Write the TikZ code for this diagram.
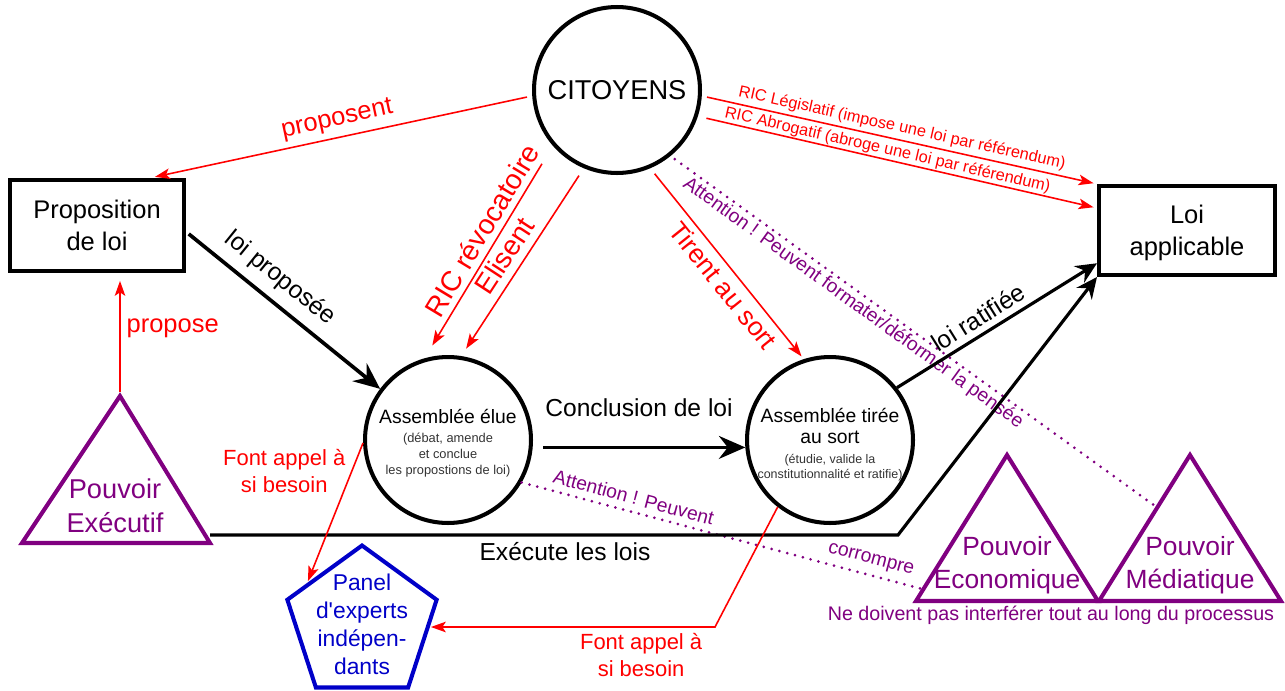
\documentclass[tikz,border=0pt]{standalone}
\usepackage{fontspec}
\setmainfont{Liberation Sans}
\usetikzlibrary{positioning, arrows.meta, shapes.geometric, calc}
\definecolor{purp}{RGB}{128,0,128}
\definecolor{panblue}{RGB}{0,0,200}
\newcommand{\fsz}[2]{\fontsize{#1}{#2}\selectfont}

\begin{document}
\begin{tikzpicture}[
        x=0.02cm, y=-0.02cm,
        bigcirc/.style={circle, draw=black, line width=2.3pt, minimum size=3.32cm, inner sep=0pt, align=center},
        loibox/.style={rectangle, draw=black, line width=2.3pt, align=center, font=\fsz{14.5}{18.5}},
        redarr/.style={draw=red, line width=0.9pt, -{Stealth[length=8.5pt, width=6pt, inset=2pt]}},
        redlbl/.style={text=red, font=\fsz{14.5}{17}},
        bigarr/.style={draw=black, line width=2.1pt, -{Stealth[length=15pt, width=13pt, inset=5pt]}},
        blkarr/.style={draw=black, line width=1.8pt, -{Stealth[length=12pt, width=11pt, inset=4pt]}},
        blklbl/.style={text=black, font=\fsz{14}{17}},
        purdot/.style={draw=purp, line width=1.7pt, line cap=round, dash pattern=on 0pt off 4.6pt},
        purlbl/.style={text=purp, font=\fsz{11}{13}},
        powtri/.style={draw=purp, line width=2.3pt},
        powtxt/.style={text=purp, align=center, font=\fsz{15}{18.5}},
    ]
    \useasboundingbox (0,0) rectangle (1285,690);

    % Draw the main actors
    \node[bigcirc, font=\fsz{15.5}{18}] (cit) at (617,90) {CITOYENS};
    \node[loibox, minimum width=3.48cm, minimum height=1.82cm] (prop) at (97,225.5) {Proposition\\de loi};
    \node[loibox, minimum width=3.52cm, minimum height=1.78cm] (loi) at (1187,230.5) {\rule{0pt}{13pt}Loi\\applicable};

    % Draw the two assemblies
    \node[bigcirc, font=\fsz{7.3}{9}, text=black!80] (elue) at (448,440)
        {\fsz{11}{13}\color{black}\rule{0pt}{11.5pt}Assemblée élue\\[2pt](débat, amende\\et conclue\\les propostions de loi)};
    \node[bigcirc, font=\fsz{7.1}{8.5}, text=black!80] (tiree) at (830,440)
        {\fsz{11}{13}\color{black}\rule{0pt}{13pt}Assemblée tirée\\[3.5pt]\fsz{11}{13}\color{black}au sort\\[2.8pt](étudie, valide la\\constitutionnalité et ratifie)};

    % Draw the panel of experts
    \node[regular polygon, regular polygon sides=5, draw=panblue, line width=2.3pt, minimum size=3.14cm, inner sep=0pt,
        label={[text=panblue, align=center, font=\fsz{13}{15.9}]center:Panel\\d\textquotesingle{}experts\\indépen-\\dants}] (panel) at (362,624) {};

    % Draw the powers
    \coordinate (exA) at (120,396);
    \coordinate (exL) at (22,543);
    \coordinate (exR) at (210,543);
    \draw[powtri] (exA) -- (exL) -- (exR) -- cycle;
    \node[powtxt, font=\fsz{15.5}{19.5}] (exec) at (115,506) {Pouvoir\\Exécutif};
    \foreach \name/\cx/\txt in {eco/1007/Economique, med/1190/Médiatique} {
        \coordinate (\name A) at (\cx,455);
        \coordinate (\name L) at (\cx-91,601);
        \coordinate (\name R) at (\cx+91,601);
        \draw[powtri] (\name A) -- (\name L) -- (\name R) -- cycle;
        \node[powtxt] (\name) at (\cx,565) {Pouvoir\\\txt};
    }
    \node[purlbl, font=\fsz{11.2}{13}] (nedoiv) at (1051,615) {Ne doivent pas interférer tout au long du processus};

    % Connect the citizens with the rest
    \draw[redarr, shorten <=3pt, shorten >=3pt] (cit.184) -- node[redlbl, sloped, above] {proposent} (prop.42);
    \draw[redarr, shorten <=12pt, shorten >=8.5pt] (cit.221) -- node[redlbl, font=\fsz{16}{19}, sloped, above, pos=0.44] {RIC révocatoire} (elue.106);
    \draw[redarr, shorten <=5pt, shorten >=5pt] (cit.247) -- node[redlbl, font=\fsz{16}{19}, sloped, above=1pt, pos=0.52] {Elisent} (elue.81);
    \draw[redarr, shorten <=4pt, shorten >=2pt] (cit.293) -- node[redlbl, font=\fsz{15}{18}, sloped, below, pos=0.56] {Tirent au sort} (tiree.108);
    \draw[redarr, shorten <=3pt, shorten >=2pt] (cit.356) -- node[redlbl, font=\fsz{9.3}{11}, sloped, above, inner sep=2pt] {RIC Législatif (impose une loi par référendum)} (loi.north west);
    \draw[redarr, shorten <=5pt, shorten >=2pt] (cit.342) -- node[redlbl, font=\fsz{9.3}{11}, sloped, above, inner sep=0.5pt, pos=0.47] {RIC Abrogatif (abroge une loi par référendum)} (loi.166);

    % Warnings about the powers
    \draw[purdot, shorten <=3pt] (cit.309) -- node[purlbl, sloped, below, inner sep=1pt, pos=0.39] {Attention ! Peuvent formater/déformer la pensée} ($(medA)!0.36!(medL)$);
    \draw[purdot] (elue.330) -- node[purlbl, sloped, above, pos=0.27] {Attention ! Peuvent} node[purlbl, sloped, above, pos=0.86] {corrompre} ($(ecoA)!0.92!(ecoL)$);

    % The path of a law
    \draw[bigarr, shorten <=2pt] (prop.-4) -- node[blklbl, sloped, above=2pt, pos=0.41] {loi proposée} (elue.143);
    \draw[bigarr, shorten <=6pt] (elue.-5) -- node[blklbl, above=13pt] {Conclusion de loi} (tiree.185);
    \draw[blkarr] (tiree.38) -- node[blklbl, sloped, above, pos=0.45] {loi ratifiée} (loi.200);

    % The executive
    \draw[redarr, shorten <=2pt, shorten >=4.5pt] (exA) -- node[redlbl, right, pos=0.55] {propose} (exA |- prop.south);
    \coordinate (exout) at (210,535);
    \coordinate (exbend) at (898,535);
    \draw[blkarr] (exout) -- node[blklbl, below, pos=0.516] {Exécute les lois} (exbend) -- (loi.south west);

    % Calls to the experts
    \draw[redarr, shorten >=1pt] (elue.182) -- node[redlbl, font=\fsz{12.5}{15.3}, left, pos=0.2, align=center] {Font appel à\\si besoin} (panel.143);
    \coordinate (apbend) at (715,627);
    \draw[redarr] (tiree.232) -- (apbend) -- node[redlbl, font=\fsz{12.5}{15.3}, below, pos=0.26, align=center] {Font appel à\\si besoin} (apbend -| panel.east);
\end{tikzpicture}
\end{document}
